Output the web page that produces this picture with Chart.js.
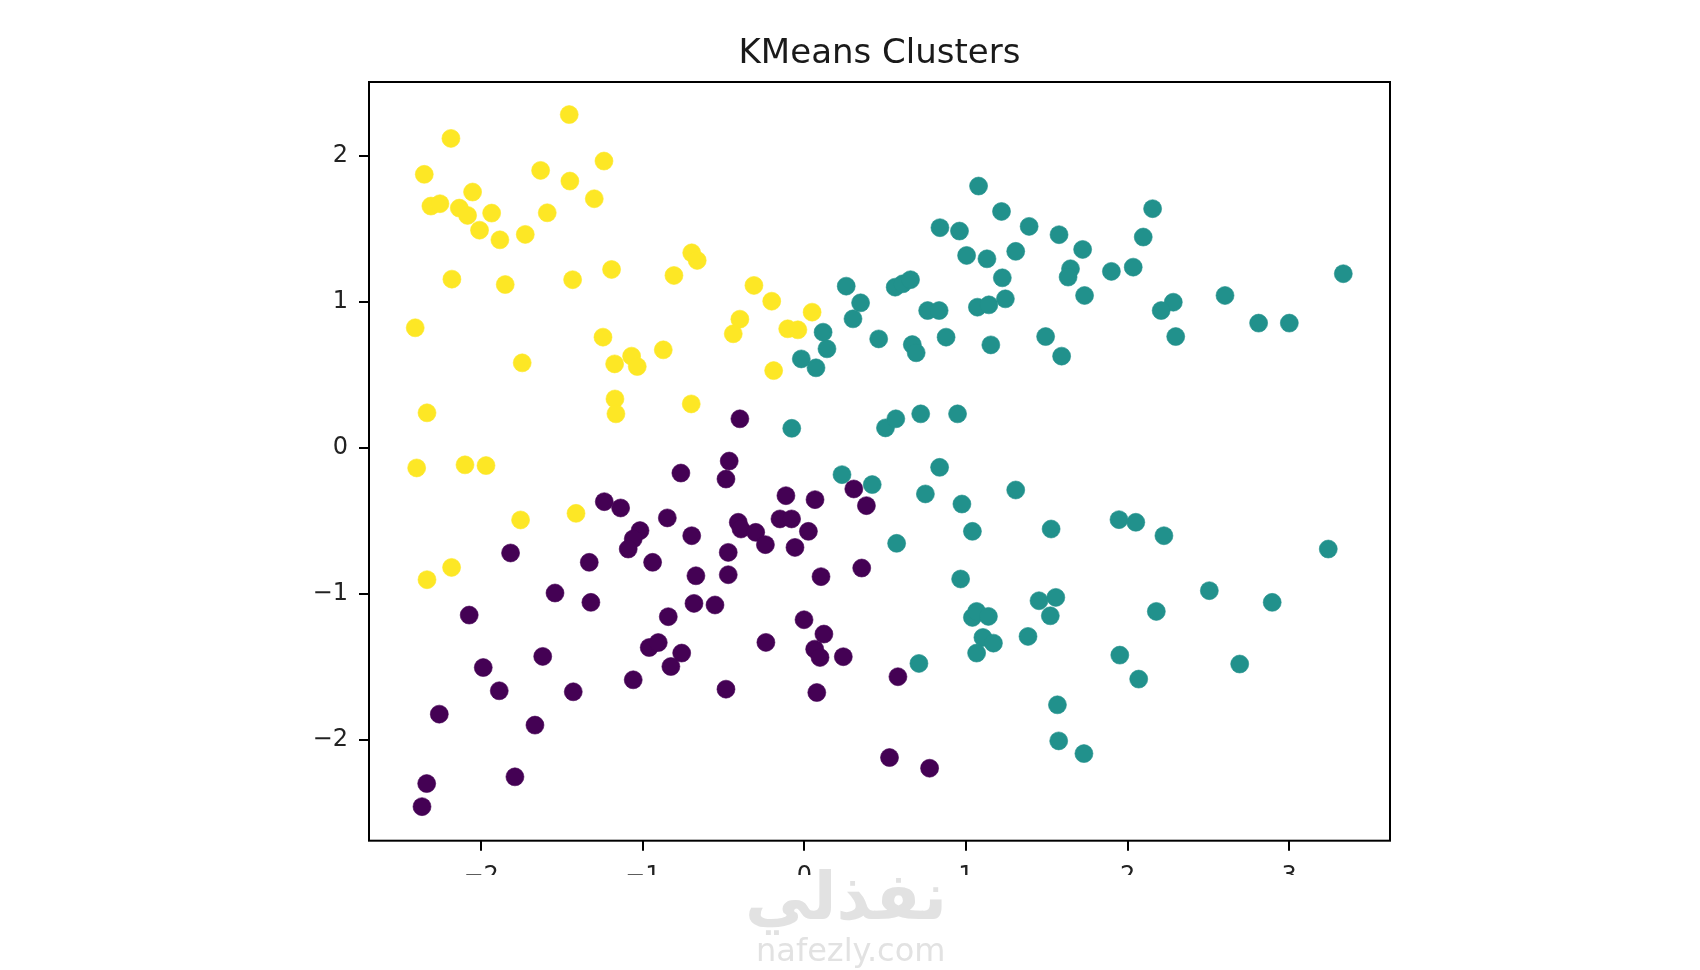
<!DOCTYPE html>
<html>
<head>
<meta charset="utf-8">
<script src="https://cdn.jsdelivr.net/npm/chart.js@4.4.1/dist/chart.umd.min.js"></script>
<style>
  html, body { margin: 0; padding: 0; background: #ffffff; }
  #wrap { position: relative; width: 1700px; height: 970px; overflow: hidden; background: #ffffff; }
  #c { position: absolute; left: 0; top: 0; }
  .wm { position: absolute; color: #e2e2e2; white-space: nowrap; line-height: 1; }
  #wm1 { left: 745px; top: 858px; font: bold 66px "DejaVu Sans", sans-serif; }
  #wm2 { left: 756px; top: 931px; font: 32px "DejaVu Sans", sans-serif; }
</style>
</head>
<body>
<div id="wrap">
  <canvas id="c" width="1700" height="875"></canvas>
  <div class="wm" id="wm1" dir="rtl">نفذلي</div>
  <div class="wm" id="wm2">nafezly.com</div>
</div>
<script>
const chartTitle = 'KMeans Clusters';
const xTickValues = [-2, -1, 0, 1, 2, 3];
const yTickValues = [-2, -1, 0, 1, 2];
const xRange = [-2.694, 3.624];
const yRange = [-2.688, 2.504];

// cluster 0 (purple)
const cluster0 = [
  [-0.399, 0.199], [-0.465, -0.090], [-0.485, -0.213], [-0.764, -0.172], [-1.238, -0.368],
  [-1.137, -0.411], [-0.848, -0.479], [-0.697, -0.601], [-1.017, -0.566], [-1.059, -0.623],
  [-1.090, -0.692], [-0.939, -0.783], [-0.471, -0.715], [-0.471, -0.868], [-0.671, -0.875],
  [-0.409, -0.509], [-0.392, -0.555], [-0.301, -0.578], [-0.241, -0.662], [-0.114, -0.327],
  [-0.151, -0.486], [-0.079, -0.486], [0.025, -0.571], [-0.058, -0.681], [-0.002, -1.176],
  [-1.818, -0.719], [-1.331, -0.783], [-1.543, -0.993], [-1.321, -1.057], [-0.683, -1.064],
  [-0.553, -1.075], [-0.842, -1.155], [-2.074, -1.144], [-0.960, -1.366], [-0.904, -1.332],
  [-0.759, -1.404], [-0.826, -1.496], [-0.238, -1.331], [-1.619, -1.427], [-1.987, -1.503],
  [-1.888, -1.662], [-1.430, -1.669], [-1.059, -1.587], [-0.485, -1.651], [-2.259, -1.822],
  [-1.667, -1.897], [-1.791, -2.251], [-2.337, -2.297], [-2.366, -2.455], [0.066, -0.354],
  [0.306, -0.281], [0.384, -0.395], [0.103, -0.881], [0.355, -0.822], [0.121, -1.274],
  [0.064, -1.377], [0.097, -1.434], [0.241, -1.429], [0.077, -1.674], [0.579, -1.566],
  [0.527, -2.119], [0.775, -2.192]
];

// cluster 1 (teal)
const cluster1 = [
  [1.078, 1.792], [1.220, 1.618], [0.839, 1.507], [0.960, 1.484], [1.391, 1.516],
  [1.576, 1.459], [1.722, 1.358], [2.155, 1.637], [2.097, 1.443], [1.004, 1.317],
  [1.130, 1.294], [1.308, 1.345], [1.225, 1.164], [1.647, 1.226], [1.632, 1.169],
  [1.900, 1.208], [2.035, 1.237], [1.734, 1.043], [0.259, 1.107], [0.348, 0.993],
  [0.301, 0.883], [0.562, 1.100], [0.609, 1.123], [0.657, 1.151], [0.763, 0.940],
  [0.834, 0.940], [1.071, 0.963], [1.142, 0.979], [1.244, 1.020], [2.283, 0.997],
  [2.208, 0.940], [2.298, 0.762], [2.603, 1.043], [2.811, 0.854], [3.001, 0.854],
  [0.116, 0.792], [0.140, 0.678], [-0.019, 0.609], [0.072, 0.548], [0.460, 0.746],
  [0.668, 0.707], [0.692, 0.651], [0.877, 0.758], [1.154, 0.705], [1.493, 0.762],
  [1.592, 0.628], [-0.078, 0.134], [0.502, 0.137], [0.566, 0.199], [0.720, 0.233],
  [0.948, 0.233], [3.335, 1.192],
  [0.233, -0.183], [0.420, -0.251], [0.837, -0.133], [0.749, -0.315], [0.975, -0.384],
  [1.308, -0.288], [1.040, -0.571], [0.571, -0.653], [1.527, -0.555], [1.947, -0.491],
  [2.051, -0.509], [2.225, -0.601], [0.967, -0.897], [2.506, -0.977], [2.895, -1.057],
  [2.178, -1.119], [1.452, -1.046], [1.556, -1.023], [1.522, -1.149], [1.040, -1.160],
  [1.066, -1.119], [1.139, -1.153], [1.105, -1.297], [1.170, -1.336], [1.066, -1.404],
  [1.384, -1.290], [0.709, -1.475], [1.952, -1.418], [2.069, -1.582], [2.694, -1.479],
  [1.566, -1.758], [1.574, -2.005], [1.730, -2.092], [3.242, -0.692]
];

// cluster 2 (yellow)
const cluster2 = [
  [-1.455, 2.281], [-2.187, 2.118], [-2.352, 1.872], [-1.240, 1.963], [-1.632, 1.899],
  [-1.451, 1.826], [-1.300, 1.705], [-2.053, 1.751], [-2.311, 1.655], [-2.255, 1.671],
  [-2.135, 1.641], [-2.084, 1.591], [-1.935, 1.607], [-1.591, 1.609], [-2.010, 1.490],
  [-1.884, 1.424], [-1.727, 1.461], [-0.697, 1.335], [-0.663, 1.283], [-1.193, 1.221],
  [-0.807, 1.180], [-2.181, 1.155], [-1.434, 1.151], [-1.851, 1.118], [-0.312, 1.112],
  [-0.202, 1.004], [-0.399, 0.881], [-0.440, 0.781], [-0.103, 0.815], [-0.040, 0.808],
  [0.048, 0.929], [-2.408, 0.822], [-1.246, 0.758], [-1.174, 0.575], [-1.069, 0.628],
  [-1.034, 0.557], [-0.873, 0.671], [-1.746, 0.582], [-0.190, 0.529], [-1.172, 0.335],
  [-1.166, 0.233], [-0.700, 0.301], [-2.335, 0.240], [-2.399, -0.137], [-2.100, -0.116],
  [-1.970, -0.121], [-1.756, -0.493], [-1.413, -0.448], [-2.183, -0.818], [-2.335, -0.902]
];

const clusterColors = ['#440154', '#21918c', '#fde725'];

const toXY = arr => arr.map(p => ({ x: p[0], y: p[1] }));
const fmt = v => (v < 0 ? '\u2212' + Math.abs(v) : String(v));

const framePlugin = {
  id: 'frame',
  afterDraw(chart) {
    const { ctx, chartArea: a } = chart;
    ctx.save();
    ctx.strokeStyle = '#000';
    ctx.lineWidth = 2;
    ctx.strokeRect(a.left, a.top, a.right - a.left, a.bottom - a.top);
    ctx.restore();
  }
};

const tickFont = { family: '"DejaVu Sans", sans-serif', size: 24 };

new Chart(document.getElementById('c'), {
  type: 'scatter',
  data: {
    datasets: [cluster0, cluster1, cluster2].map((d, i) => ({
      label: 'Cluster ' + i,
      data: toXY(d),
      backgroundColor: clusterColors[i],
      borderColor: clusterColors[i],
      borderWidth: 0.6,
      pointRadius: 9,
      pointHoverRadius: 9
    }))
  },
  options: {
    responsive: false,
    animation: false,
    devicePixelRatio: 1,
    events: [],
    layout: { padding: { left: 0, right: 310, top: 0, bottom: 0 } },
    plugins: {
      legend: { display: false },
      tooltip: { enabled: false },
      title: {
        display: true,
        fullSize: false,
        text: chartTitle,
        color: '#1a1a1a',
        font: { family: '"DejaVu Sans", sans-serif', size: 34, weight: 'normal', lineHeight: 1.2 },
        padding: { top: 33.6, bottom: 7.6 }
      }
    },
    scales: {
      x: {
        type: 'linear',
        min: xRange[0],
        max: xRange[1],
        afterFit: s => { s.height = 34.3; },
        afterBuildTicks: s => { s.ticks = xTickValues.map(v => ({ value: v })); },
        border: { display: false },
        grid: { display: true, drawOnChartArea: false, drawTicks: true, tickLength: 10, color: '#000', lineWidth: 2 },
        ticks: { color: '#222', font: tickFont, padding: 12, maxRotation: 0, autoSkip: false, callback: v => fmt(v) }
      },
      y: {
        type: 'linear',
        min: yRange[0],
        max: yRange[1],
        afterFit: s => { s.width = 369; },
        afterBuildTicks: s => { s.ticks = yTickValues.map(v => ({ value: v })); },
        border: { display: false },
        grid: { display: true, drawOnChartArea: false, drawTicks: true, tickLength: 10, color: '#000', lineWidth: 2 },
        ticks: { color: '#222', font: tickFont, padding: 11, autoSkip: false, callback: v => fmt(v) }
      }
    }
  },
  plugins: [framePlugin]
});
</script>
</body>
</html>
